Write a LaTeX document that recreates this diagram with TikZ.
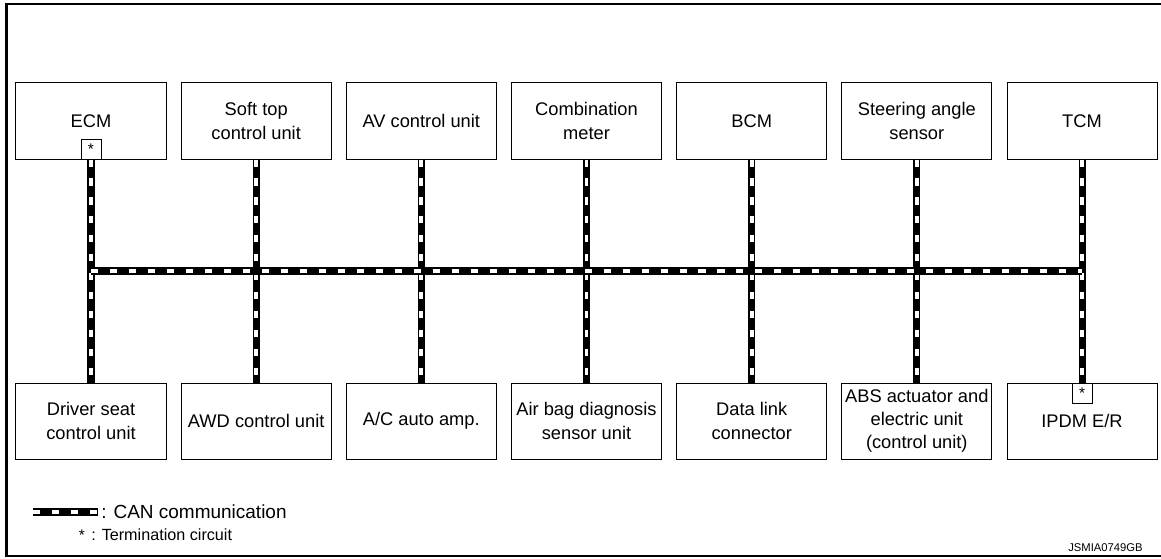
\documentclass[tikz,border=0pt]{standalone}
\usepackage{fontspec}
\setmainfont{Liberation Sans}
\usepackage{xcolor}
\usepackage{tikz}
\usetikzlibrary{positioning}

\begin{document}
\begin{tikzpicture}[x=0.025cm, y=-0.025cm,
							unit/.style = {rectangle, draw, line width=0.7pt, minimum width=3.75cm, minimum height=1.9cm, align=center, inner sep=0pt, font=\fontsize{13}{16.5}\selectfont},
							term/.style = {rectangle, draw, line width=0.6pt, minimum size=0.5cm, inner sep=0pt, font=\fontsize{11}{12}\selectfont},
							can/.style = {line width=5pt, draw=black, postaction={draw=white, line width=2.7pt, dash pattern=on 5pt off 8.5pt}}]
			\useasboundingbox (0,0) rectangle (1161,558);
			\draw[line width=2.1pt] (1161,4) -- (6.5,4) -- (6.5,556);
			\draw[line width=1.5pt] (5,556) -- (1161,556);
			
			% upper row
			\node[unit] (ecm) at (91, 121) {ECM};
			\node[unit] (soft) at (256.2, 121) {Soft top\\control unit};
			\node[unit] (av) at (421.3, 121) {AV control unit};
			\node[unit] (meter) at (586.5, 121) {Combination\\meter};
			\node[unit] (bcm) at (751.7, 121) {BCM};
			\node[unit] (steer) at (916.8, 121) {Steering angle\\sensor};
			\node[unit] (tcm) at (1082, 121) {TCM};
			
			% lower row
			\node[unit] (driver) at (91, 421) {Driver seat\\control unit};
			\node[unit] (awd) at (256.2, 421) {AWD control unit};
			\node[unit] (ac) at (421.3, 421) {A/C auto amp.};
			\node[unit] (airbag) at (586.5, 421) {Air bag diagnosis\\sensor unit};
			\node[unit] (dlc) at (751.7, 421) {Data link\\connector};
			\node[unit] (abs) at (916.8, 421) {ABS actuator and\\electric unit\\(control unit)};
			\node[unit] (ipdm) at (1082, 421) {IPDM E/R};
			
			\node[term, anchor=south] (ecmterm) at (ecm.south) {*};
			\node[term, anchor=north] (ipdmterm) at (ipdm.north) {*};
			
			\draw[can] (ecmterm.south) to (driver.north);
			\draw[can] (soft.south) to (awd.north);
			\draw[can] (av.south) to (ac.north);
			\draw[can] (meter.south) to (airbag.north);
			\draw[can] (bcm.south) to (dlc.north);
			\draw[can] (steer.south) to (abs.north);
			\draw[can] (tcm.south) to (ipdmterm.north);
			
			\coordinate (busl) at (91, 271);
			\coordinate (busr) at (1082, 271);
			\draw[can] (busl) to (busr);
			
			% legend
			\coordinate (cana) at (33, 512);
			\coordinate (canb) at (98, 512);
			\draw[can] (cana) to (canb);
			\node[anchor=west, inner sep=0pt, font=\fontsize{13.5}{15}\selectfont] (canlbl) at (101, 512) {: CAN communication};
			\node[anchor=base, inner sep=0pt, font=\fontsize{11}{12}\selectfont] (termstar) at (82, 540) {*};
			\node[anchor=base west, inner sep=0pt, font=\fontsize{11.5}{12}\selectfont] (termlbl) at (91, 540) {: Termination circuit};
			\node[anchor=base east, inner sep=0pt, font=\fontsize{8}{9}\selectfont] (code) at (1143, 551) {JSMIA0749GB};
		\end{tikzpicture}
\end{document}
